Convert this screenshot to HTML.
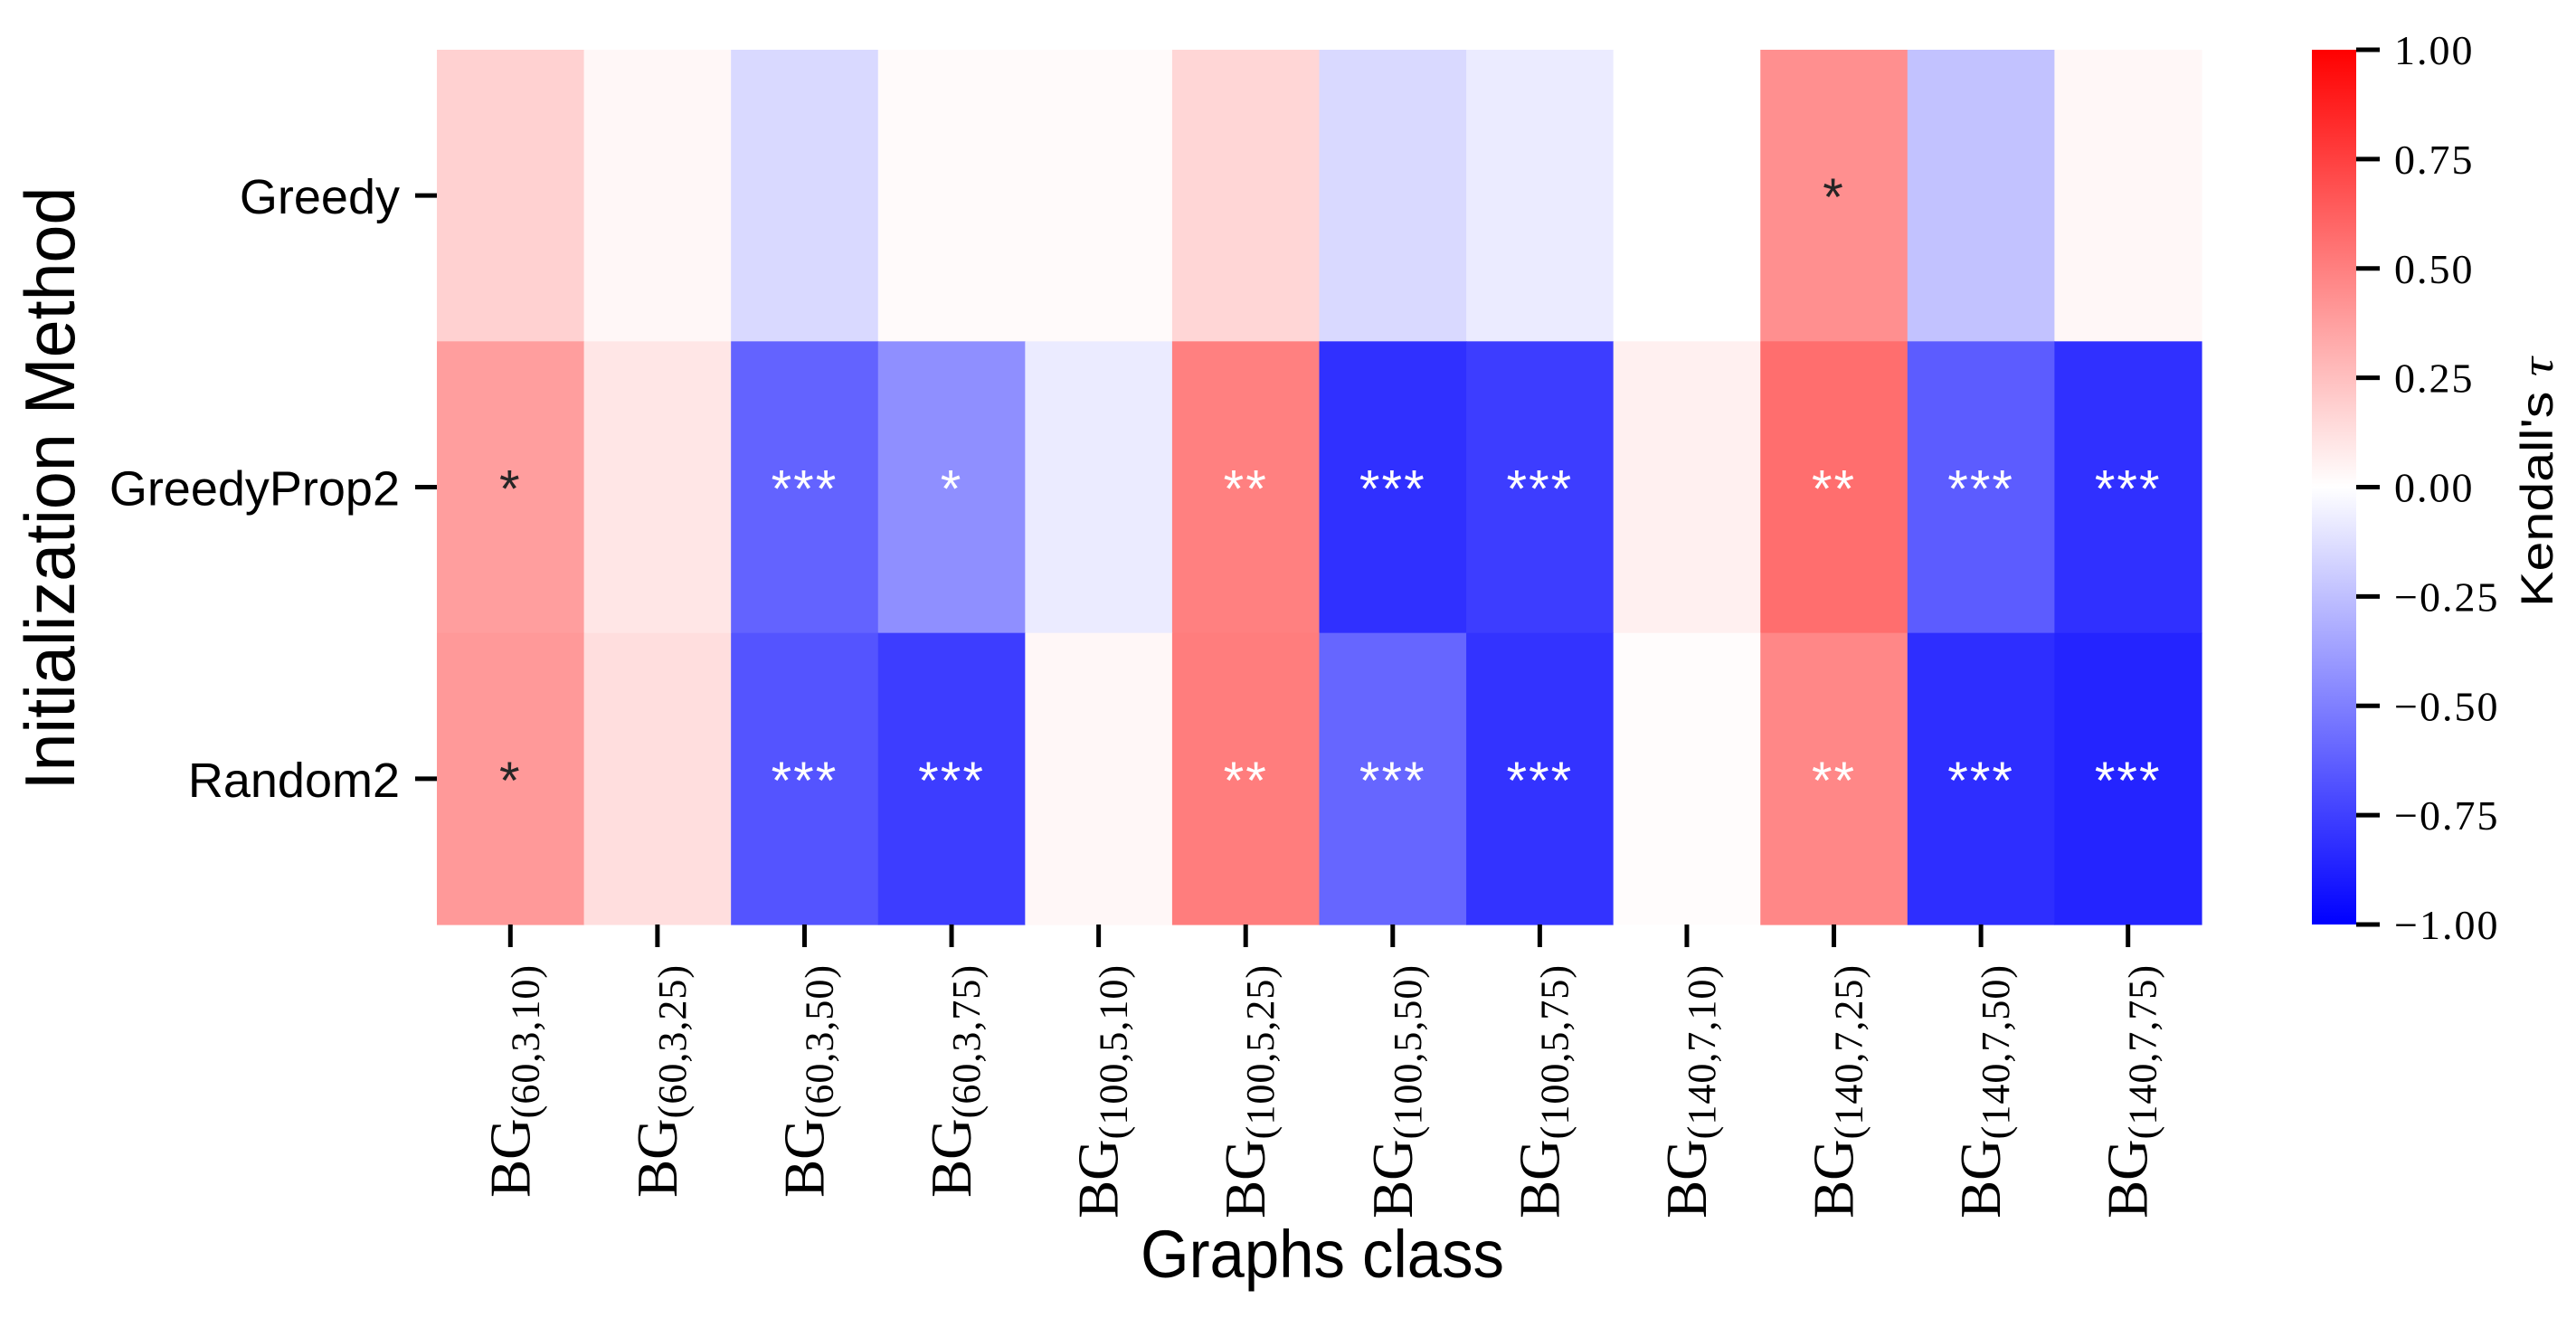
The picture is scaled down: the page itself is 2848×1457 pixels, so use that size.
<!DOCTYPE html>
<html><head><meta charset="utf-8"><style>
html,body{margin:0;padding:0;background:#fff;}
svg{display:block;}
</style></head><body>
<svg id="chart" width="2848" height="1457" viewBox="0 0 2848 1457" xmlns="http://www.w3.org/2000/svg">
<defs>
<linearGradient id="bwr" x1="0" y1="1" x2="0" y2="0">
<stop offset="0" stop-color="#0000ff"/><stop offset="0.5" stop-color="#ffffff"/><stop offset="1" stop-color="#ff0000"/>
</linearGradient>
</defs>
<g id="cells"></g>
<g id="annots"></g>
<g id="yaxis"></g>
<g id="xaxis"></g>
<text transform="translate(82,540) rotate(-90)" text-anchor="middle" font-family="Liberation Sans, sans-serif" font-size="78" textLength="667" lengthAdjust="spacingAndGlyphs">Initialization Method</text>
<text x="1462" y="1412" text-anchor="middle" font-family="Liberation Sans, sans-serif" font-size="74" textLength="402" lengthAdjust="spacingAndGlyphs">Graphs class</text>
<rect x="2556" y="55" width="49" height="967" fill="url(#bwr)"/>
<g id="cbar"></g>
<text transform="translate(2822,533) rotate(-90)" text-anchor="middle" font-family="Liberation Sans, sans-serif" font-size="50" textLength="276" lengthAdjust="spacingAndGlyphs">Kendall's <tspan font-family="Liberation Serif, serif" font-style="italic">τ</tspan></text>
</svg>
<script>
const rows = ["Greedy", "GreedyProp2", "Random2"];
const colN = ["60","60","60","60","100","100","100","100","140","140","140","140"];
const colK = ["3","3","3","3","5","5","5","5","7","7","7","7"];
const colP = ["10","25","50","75","10","25","50","75","10","25","50","75"];
const greedyVals = [0.18, 0.03, -0.15, 0.02, 0.02, 0.16, -0.15, -0.08, 0.0, 0.44, -0.24, 0.03];
const greedyProp2Vals = [0.38, 0.10, -0.61, -0.44, -0.08, 0.50, -0.81, -0.76, 0.06, 0.57, -0.64, -0.81];
const random2Vals = [0.40, 0.13, -0.67, -0.76, 0.03, 0.51, -0.60, -0.80, 0.01, 0.47, -0.82, -0.86];
const greedyStars = ["", "", "", "", "", "", "", "", "", "*", "", ""];
const greedyProp2Stars = ["*", "", "***", "*", "", "**", "***", "***", "", "**", "***", "***"];
const random2Stars = ["*", "", "***", "***", "", "**", "***", "***", "", "**", "***", "***"];
const cbarTicks = [1.0, 0.75, 0.5, 0.25, 0.0, -0.25, -0.5, -0.75, -1.0];

const values = [greedyVals, greedyProp2Vals, random2Vals];
const stars = [greedyStars, greedyProp2Stars, random2Stars];
const NS = "http://www.w3.org/2000/svg";
const X0 = 483, X1 = 2434, Y0 = 55, Y1 = 1022;
const cw = (X1 - X0) / colN.length, ch = (Y1 - Y0) / rows.length;
const xPos = i => X0 + i * cw;
const yPos = j => Y0 + j * ch;
const cbY = v => Y0 + (1 - v) / 2 * (Y1 - Y0);
function bwr(v) {
  v = Math.max(-1, Math.min(1, v));
  let r, g, b;
  if (v < 0) { r = g = Math.round(255 * (1 + v)); b = 255; }
  else { r = 255; g = b = Math.round(255 * (1 - v)); }
  return [r, g, b];
}
function lum(c) {
  const l = c.map(x => { x /= 255; return x <= 0.03928 ? x / 12.92 : Math.pow((x + 0.055) / 1.055, 2.4); });
  return 0.2126 * l[0] + 0.7152 * l[1] + 0.0722 * l[2];
}
function mk(tag, attrs, parent) {
  const e = document.createElementNS(NS, tag);
  for (const k in attrs) e.setAttribute(k, attrs[k]);
  parent.appendChild(e);
  return e;
}
const gc = document.getElementById('cells'), ga = document.getElementById('annots');
const gy = document.getElementById('yaxis'), gx = document.getElementById('xaxis'), gcb = document.getElementById('cbar');
rows.forEach((rn, j) => {
  colN.forEach((cn, i) => {
    const c = bwr(values[j][i]);
    const r = mk('rect', {x: xPos(i), y: yPos(j), width: cw + 0.6, height: ch + 0.6, fill: `rgb(${c[0]},${c[1]},${c[2]})`}, gc);
    
    
    if (stars[j][i]) {
      const t = mk('text', {x: xPos(i) + cw / 2, y: yPos(j) + ch / 2 + 22, 'text-anchor': 'middle', 'font-family': 'Liberation Sans, sans-serif', 'font-size': 58, 'letter-spacing': 2, fill: lum(c) > 0.408 ? '#262626' : '#ffffff'}, ga);
      t.textContent = stars[j][i];
      
      
    }
  });
  const cy = yPos(j) + ch / 2;
  const tk = mk('line', {x1: 459, x2: 483, y1: cy, y2: cy, stroke: '#000', 'stroke-width': 5}, gy);
  
  
  const tl = mk('text', {x: 442, y: cy + 20, 'text-anchor': 'end', 'font-family': 'Liberation Sans, sans-serif', 'font-size': 54}, gy);
  tl.textContent = rn;
  
  
});
colN.forEach((cn, i) => {
  const cx = xPos(i) + cw / 2;
  const tk = mk('line', {x1: cx, x2: cx, y1: 1022, y2: 1047, stroke: '#000', 'stroke-width': 5}, gx);
  
  
  const t = mk('text', {transform: `translate(${cx + 21},1066) rotate(-90)`, 'text-anchor': 'end', 'font-family': 'Liberation Serif, serif', 'font-size': 63}, gx);
  
  
  const a = mk('tspan', {}, t); a.textContent = 'BG';
  const b = mk('tspan', {'font-size': 44, dy: 10, 'letter-spacing': 1}, t); b.textContent = `(${cn},${colK[i]},${colP[i]})`;
});
cbarTicks.forEach(v => {
  const y = cbY(v);
  const tk = mk('line', {x1: 2605, x2: 2631, y1: y, y2: y, stroke: '#000', 'stroke-width': 5}, gcb);
  
  
  const t = mk('text', {x: 2647, y: y + 16, 'font-family': 'Liberation Serif, serif', 'font-size': 46, 'letter-spacing': 2}, gcb);
  t.textContent = (v < 0 ? '\u2212' : '') + Math.abs(v).toFixed(2);
  
  
});
</script>
</body></html>
